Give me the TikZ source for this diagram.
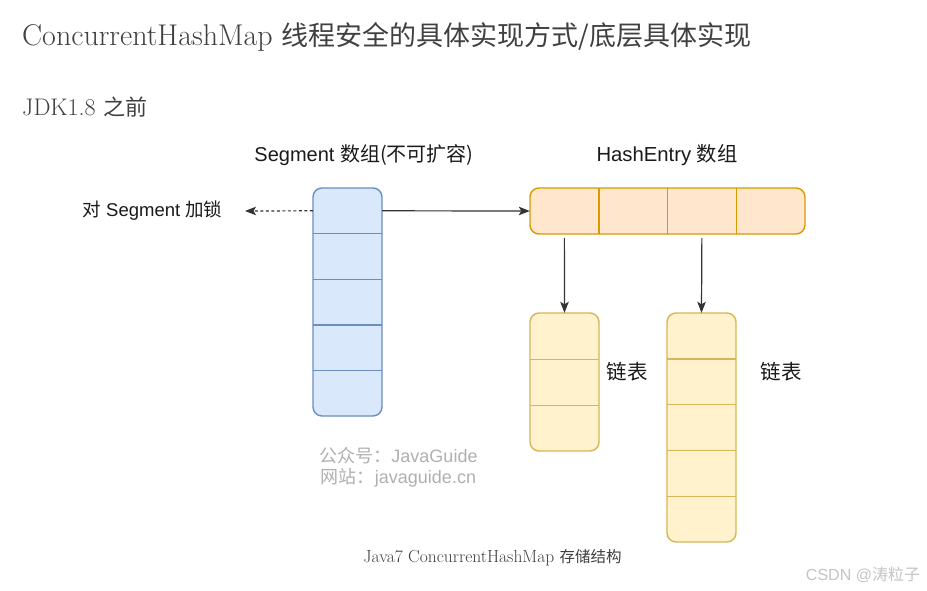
\documentclass[tikz,border=0pt]{standalone}
\usepackage{fontspec}
\usetikzlibrary{arrows.meta}
\newfontfamily\cjk{Noto Sans CJK SC}
\newfontfamily\sansf{Liberation Sans}
\definecolor{segfill}{HTML}{DAE8FC}
\definecolor{segline}{HTML}{6C8EBF}
\definecolor{hefill}{HTML}{FFE6CC}
\definecolor{heline}{HTML}{D79B00}
\definecolor{lsfill}{HTML}{FFF2CC}
\definecolor{lsline}{HTML}{D6B656}
\definecolor{txtgray}{HTML}{404040}
\definecolor{wmgray}{HTML}{B0B0B0}
\definecolor{csdngray}{HTML}{C4C4C4}
\definecolor{diagtxt}{HTML}{1A1A1A}
\tikzset{
  outerbox/.style={draw, rounded corners=9pt, inner sep=0, line width=1.4pt},
  segouter/.style={outerbox, draw=segline, fill=segfill},
  heouter/.style={outerbox, draw=heline, fill=hefill},
  lsouter/.style={outerbox, draw=lsline, fill=lsfill},
  cellbox/.style={inner sep=0, minimum width=69pt},
  divider/.style={line width=1.3pt},
  arr/.style={-{Stealth[length=11pt,width=8.5pt,inset=2.5pt]}, line width=1.2pt, draw=black!80},
  dasharr/.style={arr, dash pattern=on 3pt off 2.5pt},
  dlabel/.style={font=\sansf\fontsize{20}{24}\selectfont, text=diagtxt, inner sep=0},
}
\begin{document}
\begin{tikzpicture}[x=1pt,y=-1pt]
\useasboundingbox[fill=white] (0,0) rectangle (927,590);

% headings
\node[anchor=west, inner sep=0, text=txtgray, font=\fontsize{30}{34}\selectfont] (title) at (22,37)
  {ConcurrentHashMap {\cjk\fontsize{27}{32}\selectfont 线程安全的具体实现方式/底层具体实现}};
\node[anchor=west, inner sep=0, text=txtgray, font=\fontsize{24}{28}\selectfont] (jdk) at (22,107)
  {JDK1.8 {\cjk\fontsize{22}{26}\selectfont 之前}};

% titles
\node[dlabel] (segtitle) at (364,155) {Segment {\cjk 数组(不可扩容)}};
\node[dlabel, font=\sansf\fontsize{20.3}{24}\selectfont] (hetitle) at (667,155) {HashEntry {\cjk 数组}};

% Segment array
\node[segouter, minimum width=69pt, minimum height=228pt] (seg) at (347.5,302) {};
\foreach \i in {1,...,5}
  \node[cellbox, minimum height=45.6pt] (s\i) at (347.5,{188+45.6*(\i-0.5)}) {};
\foreach \i in {1,...,4}
  \draw[divider, segline] (s\i.south west) -- (s\i.south east);

% HashEntry array
\node[heouter, minimum width=275pt, minimum height=46pt] (he) at (667.5,211) {};
\foreach \i in {1,...,4}
  \node[cellbox, minimum width=68.75pt, minimum height=46pt] (h\i) at ({530+68.75*(\i-0.5)},211) {};
\foreach \i in {1,...,3}
  \draw[divider, heline] (h\i.north east) -- (h\i.south east);

% linked list 1
\node[lsouter, minimum width=69pt, minimum height=138pt] (l1) at (564.5,382) {};
\foreach \i in {1,...,3}
  \node[cellbox, minimum height=46pt] (a\i) at (564.5,{313+46*(\i-0.5)}) {};
\foreach \i in {1,...,2}
  \draw[divider, lsline] (a\i.south west) -- (a\i.south east);

% linked list 2
\node[lsouter, minimum width=69pt, minimum height=229pt] (l2) at (701.5,427.5) {};
\foreach \i in {1,...,5}
  \node[cellbox, minimum height=45.8pt] (b\i) at (701.5,{313+45.8*(\i-0.5)}) {};
\foreach \i in {1,...,4}
  \draw[divider, lsline] (b\i.south west) -- (b\i.south east);

% labels
\node[dlabel, font=\cjk\fontsize{20.5}{24}\selectfont] (ll1) at (627,372) {链表};
\node[dlabel, font=\cjk\fontsize{20.5}{24}\selectfont] (ll2) at (781,372) {链表};
\node[dlabel, font=\sansf\fontsize{18.5}{22}\selectfont] (lock) at (152.5,211) {{\cjk 对} Segment {\cjk 加锁}};
\coordinate (lockend) at (245,211);

% connectors
\draw[dasharr] (s1.west) -- (lockend);
\draw[arr] (s1.east) -- (h1.west);
\draw[arr] ([yshift=-4pt]h1.south) -- (a1.north);
\draw[arr] ([yshift=-4pt]h3.south) -- (b1.north);

% watermark
\node[inner sep=0, text=wmgray, font=\sansf\fontsize{18}{21}\selectfont, align=center] (wm) at (398.5,467.5)
  {{\cjk 公众号：}JavaGuide\\{\cjk 网站：}javaguide.cn};

% caption
\node[inner sep=0, text=txtgray, font=\fontsize{17.5}{20}\selectfont] (cap) at (492.5,558)
  {Java7 ConcurrentHashMap {\cjk\fontsize{15.5}{18}\selectfont 存储结构}};

% csdn
\node[inner sep=0, text=csdngray, font=\sansf\fontsize{16}{19}\selectfont] (csdn) at (863,575)
  {CSDN @{\cjk 涛粒子}};
\end{tikzpicture}
\end{document}
